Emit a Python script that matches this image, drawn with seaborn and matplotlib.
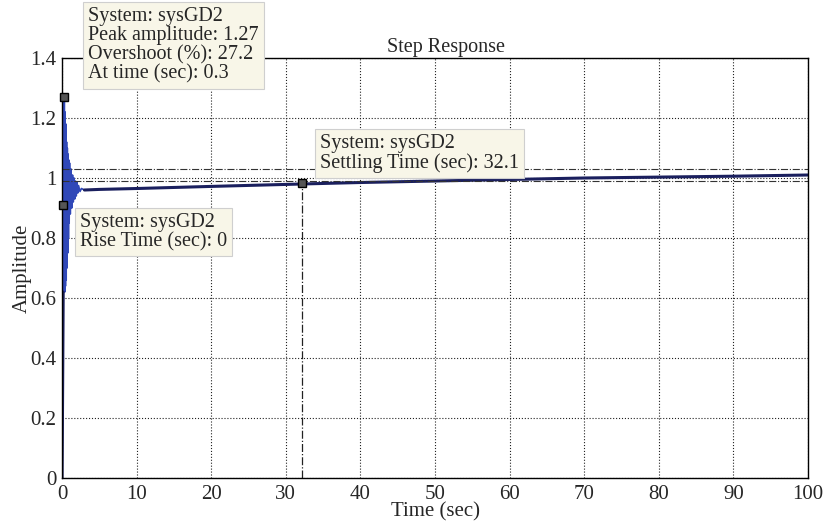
import numpy as np
import pandas as pd
import seaborn as sns
from matplotlib import pyplot as plt

# step response of sysGD2
# fast transient (dense oscillation near t=0)
t_fast = [0.0, 0.30, 0.35, 0.40, 0.45, 0.50, 0.55, 0.60, 0.65, 0.70, 0.75,
          0.80, 0.85, 0.90, 0.95, 1.00, 1.10, 1.20, 1.30, 1.40, 1.50, 1.60,
          1.70, 1.80, 1.90, 2.00, 2.10, 2.20, 2.40, 2.60, 3.00]
y_fast = [0.0, 1.27, 0.62, 1.22, 0.64, 1.18, 0.66, 1.12, 0.70, 1.10, 0.75,
          1.08, 0.80, 1.06, 0.85, 1.05, 0.88, 1.03, 0.90, 1.01, 0.92, 1.00,
          0.93, 0.99, 0.94, 0.985, 0.95, 0.975, 0.955, 0.965, 0.96]
# slow creep towards final value
t_slow = [3.0, 5.0, 10.0, 20.0, 32.1, 40.0, 50.0, 60.0, 70.0, 80.0, 90.0, 100.0]
y_slow = [0.96, 0.962, 0.965, 0.972, 0.98, 0.985, 0.99, 0.995, 1.0, 1.003, 1.006, 1.01]

# characteristics
peak_t, peak_y = 0.3, 1.27
rise_t, rise_y = 0.15, 0.91
settle_t, settle_y = 32.1, 0.982
band_hi, band_lo = 1.03, 0.99

x_ticks = [0, 10, 20, 30, 40, 50, 60, 70, 80, 90, 100]
y_ticks = [0, 0.2, 0.4, 0.6, 0.8, 1.0, 1.2, 1.4]
y_ticklabels = ['0', '0.2', '0.4', '0.6', '0.8', '1', '1.2', '1.4']

sns.set_style('white')
plt.rcParams['font.family'] = ['Liberation Serif', 'DejaVu Serif']

fast = pd.DataFrame({'t': t_fast, 'y': y_fast})
slow = pd.DataFrame({'t': t_slow, 'y': y_slow})

fig = plt.figure(figsize=(8.39, 5.22), dpi=100, facecolor='white')
ax = fig.add_axes([0.074, 0.084, 0.889, 0.805])
ax.set_facecolor('white')

sns.lineplot(data=fast, x='t', y='y', ax=ax, color='#3048b8', linewidth=1.2,
             sort=False, estimator=None)
sns.lineplot(data=slow, x='t', y='y', ax=ax, color='#1a1f5e', linewidth=2.2,
             sort=False, estimator=None)
# dark rising edge
ax.plot([t_fast[0], t_fast[1] * 0.5], [0, 0.62], color='#1a1f5e', linewidth=2.2)

# settling band and settling-time guide
ax.axhline(band_hi, color='#333333', linestyle='-.', linewidth=0.8)
ax.axhline(band_lo, color='#333333', linestyle='-.', linewidth=0.8)
ax.plot([settle_t, settle_t], [0, settle_y], color='#222222', linestyle='-.', linewidth=0.9)

# data tip markers
for mx, my in [(peak_t, peak_y), (rise_t, rise_y), (settle_t, settle_y)]:
    ax.plot(mx, my, marker='s', markersize=6, markerfacecolor='#555555',
            markeredgecolor='black', clip_on=False, zorder=5)

ax.set_xlim(0, 100)
ax.set_ylim(0, 1.4)
ax.set_xticks(x_ticks)
ax.set_yticks(y_ticks)
ax.set_yticklabels(y_ticklabels)
ax.tick_params(direction='in', labelsize=15, length=4, color='black')
ax.tick_params(axis='x', pad=5)
ax.tick_params(axis='y', pad=4)
ax.grid(True, linestyle=':', color='#222222', linewidth=0.8)
for s in ax.spines.values():
    s.set_color('black')
    s.set_linewidth(1.0)

ax.set_xlabel('Time (sec)', fontsize=15, labelpad=-1)
ax.set_ylabel('Amplitude', fontsize=15, labelpad=-1)
ax.set_title('Step Response', fontsize=14.5, pad=4, x=0.515)

box = dict(boxstyle='square,pad=0.25', facecolor='#f8f6e8', edgecolor='#cfcfcf', linewidth=0.8)
fig.text(88 / 839, 1 - 7 / 522,
         'System: sysGD2\nPeak amplitude: 1.27\nOvershoot (%): 27.2\nAt time (sec): 0.3',
         fontsize=14.5, va='top', ha='left', bbox=box, zorder=10, linespacing=1.0)
fig.text(80 / 839, 1 - 213 / 522,
         'System: sysGD2\nRise Time (sec): 0',
         fontsize=14.5, va='top', ha='left', bbox=box, zorder=10, linespacing=1.0)
fig.text(320 / 839, 1 - 134 / 522,
         'System: sysGD2\nSettling Time (sec): 32.1',
         fontsize=14.5, va='top', ha='left', bbox=box, zorder=10, linespacing=1.0)

plt.savefig('out.png', dpi=100, facecolor=fig.get_facecolor())
plt.close()
